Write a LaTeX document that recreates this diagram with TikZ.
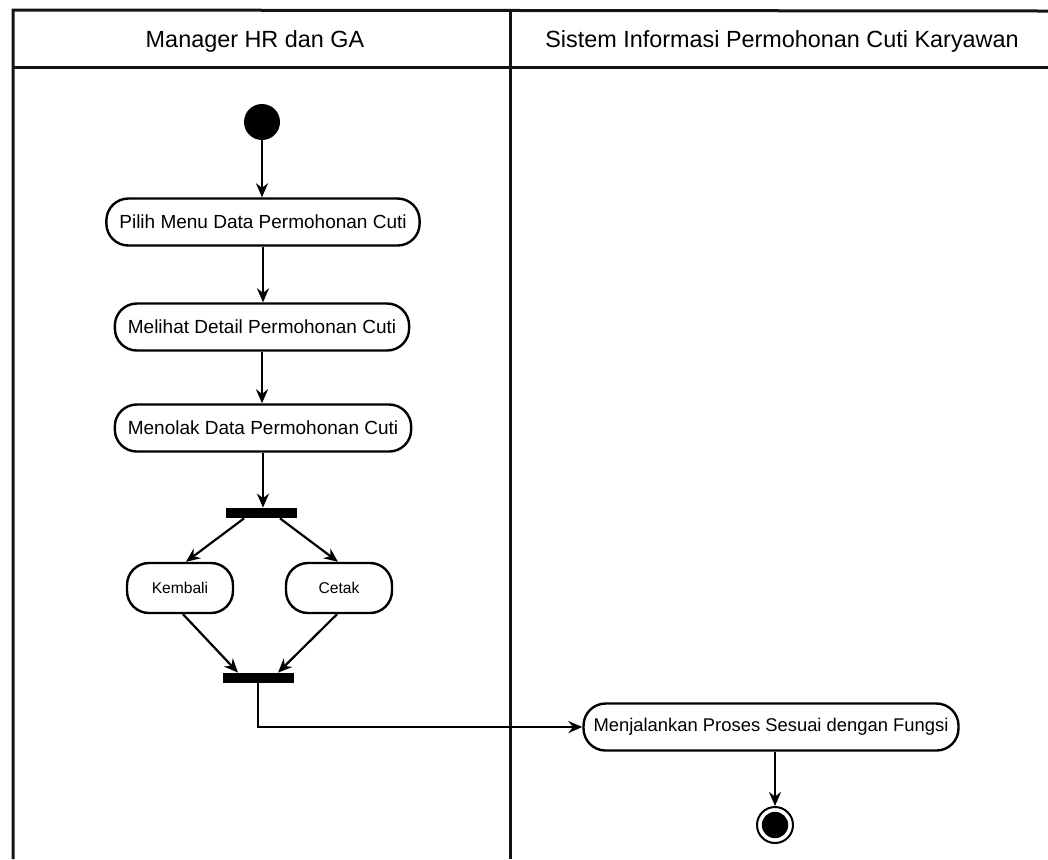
\documentclass[tikz,border=0pt]{standalone}
\usepackage{fontspec}
\setmainfont{Liberation Sans}
\usetikzlibrary{arrows.meta,calc}
\definecolor{laneLine}{RGB}{20, 20, 20}

\tikzset{
    actnode/.style={draw, line width=1.2pt, rounded corners=11pt, fill=white,
        minimum height=23.5pt, inner xsep=6.5pt,
        font=\fontsize{9.5}{11}\selectfont},
    smallact/.style={actnode, minimum width=53pt, minimum height=25pt,
        font=\fontsize{7.8}{9}\selectfont},
    forkbar/.style={fill=black, minimum width=35.5pt, minimum height=5pt, inner sep=0pt},
    startnode/.style={circle, fill=black, minimum size=18pt, inner sep=0pt},
    endnode/.style={circle, draw, line width=1pt, minimum size=18pt, inner sep=0pt,
        path picture={\fill (path picture bounding box.center) circle (6.6pt);}},
    flow/.style={line width=1.1pt, -{Stealth[length=7pt,width=6pt]}},
    lanetitle/.style={font=\fontsize{11.7}{14}\selectfont}
}

\begin{document}
\begin{tikzpicture}[x=0.5pt,y=-0.5pt]
    \useasboundingbox (0,0) rectangle (1048,859);
    % swimlanes
    \draw[line width=1.5pt, laneLine] (13,859) -- (13,10) -- (1048,11);
    \draw[line width=1.5pt, laneLine] (13,67) -- (1048,67);
    \draw[line width=1.5pt, laneLine] (510,10) -- (510,859);
    \node[lanetitle] (laneA) at (255,41) {Manager HR dan GA};
    \node[lanetitle] (laneB) at (782,41) {Sistem Informasi Permohonan Cuti Karyawan};

    % manager lane
    \node[startnode] (start) at (262,122) {};
    \node[actnode] (pilih) at (263,222) {Pilih Menu Data Permohonan Cuti};
    \node[actnode] (detail) at (262,327) {Melihat Detail Permohonan Cuti};
    \node[actnode] (tolak) at (263,428) {Menolak Data Permohonan Cuti};
    \node[forkbar] (fork) at (261,513) {};
    \node[smallact] (kembali) at (180,588) {Kembali};
    \node[smallact] (cetak) at (339,588) {Cetak};
    \node[forkbar] (join) at (258,678) {};

    % system lane
    \node[actnode, inner xsep=5pt, font=\fontsize{9.2}{11}\selectfont] (proses) at (771,727)
        {Menjalankan Proses Sesuai dengan Fungsi};
    \node[endnode] (end) at (775,825) {};

    \draw[flow] (start) -- (start |- pilih.north);
    \draw[flow] (pilih) -- (pilih |- detail.north);
    \draw[flow] (detail) -- (detail |- tolak.north);
    \draw[flow] (tolak) -- (tolak |- fork.north);
    \draw[flow] ([xshift=-8.5pt]fork.south) -- ([xshift=3pt]kembali.north);
    \draw[flow] ([xshift=9.5pt]fork.south) -- ([xshift=-0.5pt]cetak.north);
    \draw[flow] ([xshift=1.5pt]kembali.south) -- ([xshift=-10pt]join.north);
    \draw[flow] ([xshift=-1pt]cetak.south) -- ([xshift=10pt]join.north);
    \draw[flow] (join.south) |- (proses.west);
    \draw[flow] (proses.south -| end) -- (end.north);
\end{tikzpicture}
\end{document}
